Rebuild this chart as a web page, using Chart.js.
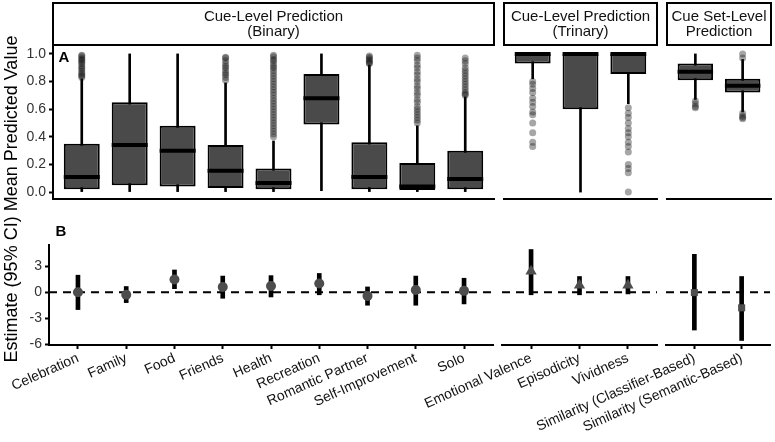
<!DOCTYPE html>
<html>
<head>
<meta charset="utf-8">
<script src="https://cdn.jsdelivr.net/npm/chart.js@4.4.1/dist/chart.umd.min.js"></script>
<style>
  html, body { margin: 0; padding: 0; background: #fff; }
  #wrap { position: relative; width: 775px; height: 442px; overflow: hidden; }
  #wrap canvas { position: absolute; left: 0; top: 0; }
</style>
</head>
<body>
<div id="wrap">
  <canvas id="a1" width="775" height="442"></canvas>
  <canvas id="a2" width="775" height="442"></canvas>
  <canvas id="a3" width="775" height="442"></canvas>
  <canvas id="b1" width="775" height="442"></canvas>
  <canvas id="b2" width="775" height="442"></canvas>
  <canvas id="b3" width="775" height="442"></canvas>
</div>
<script>
// categories per facet
const binaryCats = ['Celebration', 'Family', 'Food', 'Friends', 'Health', 'Recreation', 'Romantic Partner', 'Self-Improvement', 'Solo'];
const trinaryCats = ['Emotional Valence', 'Episodicity', 'Vividness'];
const setCats = ['Similarity (Classifier-Based)', 'Similarity (Semantic-Based)'];

// panel A box plots: quartiles, medians, whisker ends
const binaryQ1 = [0.02, 0.05, 0.04, 0.03, 0.02, 0.49, 0.02, 0.015, 0.02];
const binaryMed = [0.11, 0.34, 0.30, 0.155, 0.065, 0.68, 0.11, 0.04, 0.095];
const binaryQ3 = [0.35, 0.65, 0.48, 0.34, 0.17, 0.855, 0.36, 0.21, 0.30];
const binaryLo = [0, 0, 0, 0, 0, 0.01, 0, 0, 0];
const binaryHi = [0.82, 1.0, 1.0, 0.79, 0.37, 1.0, 0.92, 0.48, 0.69];
const binaryOut = [
  [0.99, 0.985, 0.97, 0.96, 0.955, 0.94, 0.93, 0.915, 0.9, 0.89, 0.875, 0.86, 0.85, 0.84, 0.83],
  [],
  [],
  [0.975, 0.97, 0.95, 0.93, 0.91, 0.9, 0.88, 0.86, 0.85, 0.83, 0.81],
  [0.99, 0.98, 0.96, 0.95, 0.93, 0.91, 0.9, 0.88, 0.86, 0.84, 0.82, 0.8, 0.78, 0.76, 0.74, 0.72, 0.7, 0.68, 0.66, 0.64, 0.62, 0.6, 0.58, 0.56, 0.54, 0.52, 0.5, 0.48, 0.46, 0.44, 0.42, 0.4],
  [],
  [0.985, 0.975, 0.965, 0.955, 0.945, 0.935, 0.93],
  [0.99, 0.97, 0.95, 0.92, 0.9, 0.87, 0.85, 0.82, 0.8, 0.77, 0.75, 0.72, 0.7, 0.67, 0.65, 0.62, 0.6, 0.58, 0.56, 0.54, 0.52, 0.5],
  [0.97, 0.95, 0.93, 0.9, 0.88, 0.86, 0.84, 0.82, 0.8, 0.78, 0.76, 0.74, 0.72, 0.71, 0.7]
];

const trinaryQ1 = [0.93, 0.60, 0.855];
const trinaryMed = [1.0, 1.0, 1.0];
const trinaryQ3 = [1.0, 1.0, 1.0];
const trinaryLo = [0.82, 0.0, 0.64];
const trinaryHi = [1.0, 1.0, 1.0];
const trinaryOut = [
  [0.8, 0.78, 0.75, 0.72, 0.68, 0.65, 0.62, 0.58, 0.56, 0.5, 0.43, 0.36, 0.33],
  [],
  [0.61, 0.57, 0.54, 0.5, 0.46, 0.43, 0.4, 0.36, 0.33, 0.29, 0.2, 0.17, 0.14, 0.0]
];

const setQ1 = [0.81, 0.72];
const setMed = [0.87, 0.77];
const setQ3 = [0.93, 0.82];
const setLo = [0.67, 0.58];
const setHi = [1.0, 0.96];
const setOut = [
  [0.66, 0.64, 0.62, 0.61],
  [1.0, 0.97, 0.57, 0.55, 0.54, 0.53]
];

// panel B estimates with 95% CI
const binaryEst = [0.0, -0.3, 1.45, 0.6, 0.7, 1.0, -0.45, 0.25, 0.15];
const binaryCiLo = [-2.0, -1.2, 0.4, -0.7, -0.55, -0.3, -1.5, -1.5, -1.35];
const binaryCiHi = [1.95, 0.65, 2.55, 1.85, 1.9, 2.15, 0.6, 1.85, 1.6];
const trinaryEst = [2.4, 0.8, 0.8];
const trinaryCiLo = [-0.3, -0.3, -0.2];
const trinaryCiHi = [4.9, 1.8, 1.8];
const setEst = [-0.05, -1.8];
const setCiLo = [-4.35, -5.55];
const setCiHi = [4.35, 1.8];

// tick labels
const yTicksA = [0, 0.2, 0.4, 0.6, 0.8, 1.0];
const yTicksB = [-6, -3, 0, 3];

Chart.defaults.font.family = "'Liberation Sans', Arial, sans-serif";
Chart.defaults.color = '#222';
Chart.defaults.animation = false;
Chart.defaults.plugins.legend.display = false;
Chart.defaults.plugins.tooltip.enabled = false;

const FONT = "'Liberation Sans', Arial, sans-serif";

// draws the thick median line over every box
const medianPlugin = {
  id: 'medians',
  afterDatasetsDraw(chart) {
    const ctx = chart.ctx;
    const y = chart.scales.y;
    chart.data.datasets.forEach((ds, di) => {
      if (!ds.medians) return;
      const meta = chart.getDatasetMeta(di);
      ctx.save();
      ctx.strokeStyle = '#000';
      ctx.lineWidth = 4;
      meta.data.forEach((bar, i) => {
        const py = y.getPixelForValue(ds.medians[i]);
        ctx.beginPath();
        ctx.moveTo(bar.x - bar.width / 2, py);
        ctx.lineTo(bar.x + bar.width / 2, py);
        ctx.stroke();
      });
      ctx.restore();
    });
  }
};

// facet strip above a panel
const stripPlugin = {
  id: 'strip',
  afterDraw(chart, args, opts) {
    if (!opts || !opts.lines) return;
    const ctx = chart.ctx;
    const a = chart.chartArea;
    ctx.save();
    ctx.fillStyle = '#fff';
    ctx.fillRect(a.left, 3, a.right - a.left, 42);
    ctx.strokeStyle = '#000';
    ctx.lineWidth = 2;
    ctx.strokeRect(a.left, 3, a.right - a.left, 42);
    ctx.fillStyle = '#111';
    ctx.font = '15px ' + FONT;
    ctx.textAlign = 'center';
    ctx.textBaseline = 'middle';
    const cx = (a.left + a.right) / 2;
    opts.lines.forEach((t, i) => ctx.fillText(t, cx, 17 + i * 15));
    ctx.restore();
  }
};

// dashed reference line at zero
const zeroPlugin = {
  id: 'zero',
  beforeDatasetsDraw(chart) {
    const ctx = chart.ctx;
    const a = chart.chartArea;
    const py = chart.scales.y.getPixelForValue(0);
    ctx.save();
    ctx.strokeStyle = '#000';
    ctx.lineWidth = 2;
    ctx.setLineDash([8, 6]);
    ctx.beginPath();
    ctx.moveTo(a.left, py);
    ctx.lineTo(a.right, py);
    ctx.stroke();
    ctx.restore();
  }
};

// panel tags and the shared y title
const textPlugin = {
  id: 'texts',
  afterDraw(chart, args, opts) {
    if (!opts || !opts.items) return;
    const ctx = chart.ctx;
    opts.items.forEach(t => {
      ctx.save();
      ctx.font = t.font;
      ctx.fillStyle = '#000';
      ctx.textAlign = 'center';
      ctx.textBaseline = 'middle';
      ctx.translate(t.x, t.y);
      if (t.rotate) ctx.rotate(t.rotate);
      ctx.fillText(t.text, 0, 0);
      ctx.restore();
    });
  }
};

function xScale(cats, showLabels) {
  return {
    type: 'linear',
    min: -0.6,
    max: cats.length - 0.4,
    offset: false,
    afterBuildTicks: s => { s.ticks = cats.map((c, i) => ({ value: i })); },
    afterFit: s => { s.height = showLabels ? 97 : 2; s.paddingLeft = 0; s.paddingRight = 0; },
    grid: { display: showLabels, offset: false, drawOnChartArea: false, drawTicks: true, tickLength: 4, tickWidth: 2, tickColor: '#000' },
    border: { display: true, color: '#000', width: 2 },
    ticks: {
      display: showLabels, autoSkip: false, minRotation: 24, maxRotation: 24, padding: 1,
      color: '#111', font: { size: 14 },
      callback: v => cats[v]
    }
  };
}

function yScale(min, max, ticks, show, width) {
  return {
    type: 'linear',
    min: min,
    max: max,
    display: show,
    afterBuildTicks: s => { s.ticks = ticks.map(v => ({ value: v })); },
    afterFit: s => { s.width = show ? width : 0; },
    grid: { drawOnChartArea: false, drawTicks: true, tickLength: 4, tickWidth: 2, tickColor: '#000' },
    border: { display: true, color: '#000', width: 2 },
    ticks: {
      padding: 3, color: '#333', font: { size: 14 },
      callback: v => (min > -1 ? v.toFixed(1) : String(v))
    }
  };
}

function boxDatasets(q1, med, q3, lo, hi, outliers) {
  return [
    {
      type: 'bar', data: q1.map((v, i) => ({ x: i, y: [v, q3[i]] })), medians: med,
      backgroundColor: '#4a4a4a', borderColor: '#000', borderWidth: 2, borderSkipped: false,
      grouped: false, barPercentage: 0.75, categoryPercentage: 1, order: 1
    },
    {
      type: 'bar', data: lo.map((v, i) => ({ x: i, y: [v, hi[i]] })),
      backgroundColor: '#000', barThickness: 2, grouped: false, order: 2
    },
    {
      type: 'line', data: outliers.flatMap((arr, i) => arr.map(v => ({ x: i, y: v }))),
      showLine: false, pointRadius: 3.5, pointBackgroundColor: 'rgba(20,20,20,0.38)',
      pointBorderWidth: 0, order: 0
    }
  ];
}

function estDatasets(est, lo, hi, shape) {
  return [
    {
      type: 'bar', data: lo.map((v, i) => ({ x: i, y: [v, hi[i]] })),
      backgroundColor: '#000', barThickness: 4, grouped: false, order: 1
    },
    {
      type: 'line', data: est.map((v, i) => ({ x: i, y: v })), showLine: false,
      pointStyle: shape, pointRadius: shape === 'triangle' ? 6.5 : 5,
      pointBackgroundColor: '#4d4d4d', pointBorderWidth: 0, order: 0
    }
  ];
}

function boxChart(id, cats, sets, strip, showY, padLeft, padRight, extra) {
  return new Chart(document.getElementById(id), {
    type: 'bar',
    data: { datasets: sets },
    plugins: [medianPlugin, stripPlugin, textPlugin],
    options: {
      responsive: false,
      devicePixelRatio: 1,
      layout: { padding: { left: padLeft, right: padRight, top: 47, bottom: 241 } },
      scales: { x: xScale(cats, false), y: yScale(-0.05, 1.05, yTicksA, showY, 53) },
      plugins: { strip: { lines: strip }, texts: extra || {} }
    }
  });
}

function estChart(id, cats, sets, showY, padLeft, padRight, extra) {
  return new Chart(document.getElementById(id), {
    type: 'bar',
    data: { datasets: sets },
    plugins: [zeroPlugin, textPlugin],
    options: {
      responsive: false,
      devicePixelRatio: 1,
      layout: { padding: { left: padLeft, right: padRight, top: 245, bottom: 0 } },
      scales: { x: xScale(cats, true), y: yScale(-6.07, 5.42, yTicksB, showY, 49) },
      plugins: { texts: extra || {} }
    }
  });
}

boxChart('a1', binaryCats, boxDatasets(binaryQ1, binaryMed, binaryQ3, binaryLo, binaryHi, binaryOut),
  ['Cue-Level Prediction', '(Binary)'], true, 0, 281, {
    items: [
      { text: 'A', x: 64, y: 58, font: 'bold 15px ' + FONT },
      { text: 'Estimate (95% CI) Mean Predicted Value', x: 12, y: 199, rotate: -Math.PI / 2, font: '18px ' + FONT }
    ]
  });
boxChart('a2', trinaryCats, boxDatasets(trinaryQ1, trinaryMed, trinaryQ3, trinaryLo, trinaryHi, trinaryOut),
  ['Cue-Level Prediction', '(Trinary)'], false, 504, 118);
boxChart('a3', setCats, boxDatasets(setQ1, setMed, setQ3, setLo, setHi, setOut),
  ['Cue Set-Level', 'Prediction'], false, 667, 2);

estChart('b1', binaryCats, estDatasets(binaryEst, binaryCiLo, binaryCiHi, 'circle'), true, 0, 282, {
  items: [{ text: 'B', x: 61, y: 232, font: 'bold 15px ' + FONT }]
});
estChart('b2', trinaryCats, estDatasets(trinaryEst, trinaryCiLo, trinaryCiHi, 'triangle'), false, 502, 118);
estChart('b3', setCats, estDatasets(setEst, setCiLo, setCiHi, 'rect'), false, 666, 3);
</script>
</body>
</html>
